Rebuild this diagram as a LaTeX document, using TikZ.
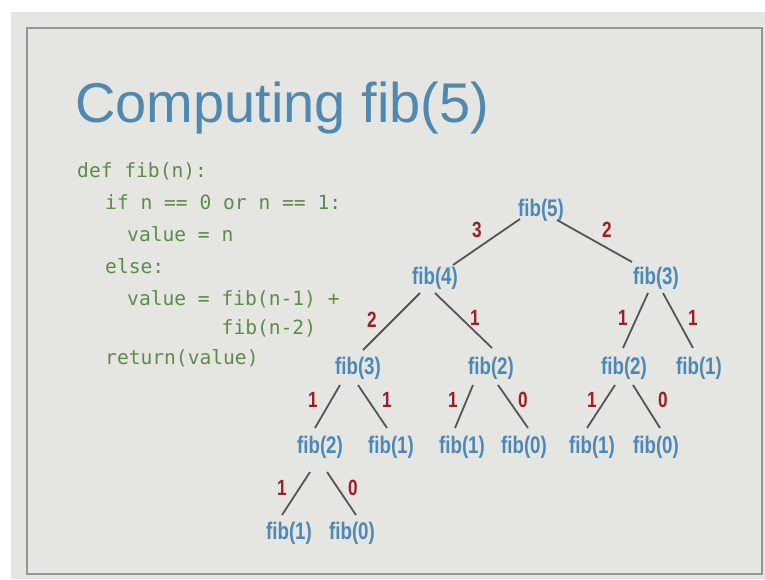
\documentclass[tikz,border=0pt]{standalone}
\usepackage{fontspec}
\setmainfont{Liberation Sans}
\newfontfamily\titlefont{Liberation Sans}
\newfontfamily\codefont{DejaVu Sans Mono}
\newfontfamily\treefont[FakeStretch=0.78]{Liberation Sans}
\usetikzlibrary{calc}
\definecolor{bg}{RGB}{229,229,225}
\definecolor{framec}{RGB}{150,150,148}
\definecolor{titleblue}{RGB}{80,136,176}
\definecolor{nodeblue}{RGB}{76,136,184}
\definecolor{codegreen}{RGB}{94,140,72}
\definecolor{labred}{RGB}{158,30,36}
\definecolor{edgec}{RGB}{85,85,85}
\tikzset{
  fib/.style={text=nodeblue, inner sep=0pt, font=\treefont\bfseries\fontsize{24}{24}\selectfont},
  lab/.style={text=labred, inner sep=0pt, font=\treefont\bfseries\fontsize{22}{22}\selectfont},
  codeline/.style={text=codegreen, inner sep=0pt, anchor=base west, font=\codefont\fontsize{19.6}{20}\selectfont},
  edge/.style={draw=edgec, line width=1.8pt}
}
\begin{document}
\begin{tikzpicture}[x=1pt,y=-1pt]
\useasboundingbox (0,0) rectangle (765,579);
\fill[white] (0,0) rectangle (765,579);
\fill[bg] (11,12) rectangle (765,579);
\draw[framec, line width=2pt] (27,28) rectangle (762,574);
% title
\node[text=titleblue, inner sep=0pt, anchor=base west, font=\titlefont\fontsize{56}{56}\selectfont] (title) at (75,122) {Computing fib(5)};
% code
\node[codeline] (c1) at (77,177) {def fib(n):};
\node[codeline] (c2) at (105,209) {if n == 0 or n == 1:};
\node[codeline] (c3) at (127,241) {value = n};
\node[codeline] (c4) at (105,273) {else:};
\node[codeline] (c5) at (127,305) {value = fib(n-1) +};
\node[codeline] (c6) at (221.5,334) {fib(n-2)};
\node[codeline] (c7) at (105,364) {return(value)};
% tree nodes
\node[fib] (f5) at (541,210) {fib(5)};
\node[fib] (f4) at (435,278) {fib(4)};
\node[fib] (f3r) at (656,278) {fib(3)};
\node[fib] (f3l) at (358,368) {fib(3)};
\node[fib] (f2m) at (491,368) {fib(2)};
\node[fib] (f2r) at (624,368) {fib(2)};
\node[fib] (f1r) at (699,368) {fib(1)};
\node[fib] (f2a) at (320,447) {fib(2)};
\node[fib] (f1a) at (391,447) {fib(1)};
\node[fib] (f1b) at (462,447) {fib(1)};
\node[fib] (f0b) at (524,447) {fib(0)};
\node[fib] (f1c) at (592,447) {fib(1)};
\node[fib] (f0c) at (656,447) {fib(0)};
\node[fib] (f1d) at (289,533) {fib(1)};
\node[fib] (f0d) at (352,533) {fib(0)};
% edges
\draw[edge] ($(f5)+(-21,9)$) -- ($(f4)+(18,-13)$);
\draw[edge] ($(f5)+(16,10)$) -- ($(f3r)+(-24,-16)$);
\draw[edge] ($(f4)+(-15,15)$) -- ($(f3l)+(5,-18)$);
\draw[edge] ($(f4)+(0,15)$) -- ($(f2m)+(1,-20)$);
\draw[edge] ($(f3r)+(-8,15)$) -- ($(f2r)+(-1,-20)$);
\draw[edge] ($(f3r)+(7,15)$) -- ($(f1r)+(-6,-20)$);
\draw[edge] ($(f3l)+(-18,17)$) -- ($(f2a)+(-5,-19)$);
\draw[edge] ($(f3l)+(0,17)$) -- ($(f1a)+(-4,-19)$);
\draw[edge] ($(f2m)+(-18,17)$) -- ($(f1b)+(-7,-19)$);
\draw[edge] ($(f2m)+(7,17)$) -- ($(f0b)+(4,-19)$);
\draw[edge] ($(f2r)+(-9,17)$) -- ($(f1c)+(-5,-19)$);
\draw[edge] ($(f2r)+(9,17)$) -- ($(f0c)+(4,-19)$);
\draw[edge] ($(f2a)+(-10,25)$) -- ($(f1d)+(-7,-18)$);
\draw[edge] ($(f2a)+(7,25)$) -- ($(f0d)+(4,-18)$);
% labels
\node[lab] (l1) at (477,230) {3};
\node[lab] (l2) at (607,230) {2};
\node[lab] (l3) at (372,320) {2};
\node[lab] (l4) at (475,318) {1};
\node[lab] (l5) at (623,318) {1};
\node[lab] (l6) at (693,318) {1};
\node[lab] (l7) at (313,400) {1};
\node[lab] (l8) at (387,400) {1};
\node[lab] (l9) at (453,400) {1};
\node[lab] (l10) at (523,400) {0};
\node[lab] (l11) at (592,400) {1};
\node[lab] (l12) at (663,400) {0};
\node[lab] (l13) at (282,488) {1};
\node[lab] (l14) at (353,488) {0};
\end{tikzpicture}
\end{document}
